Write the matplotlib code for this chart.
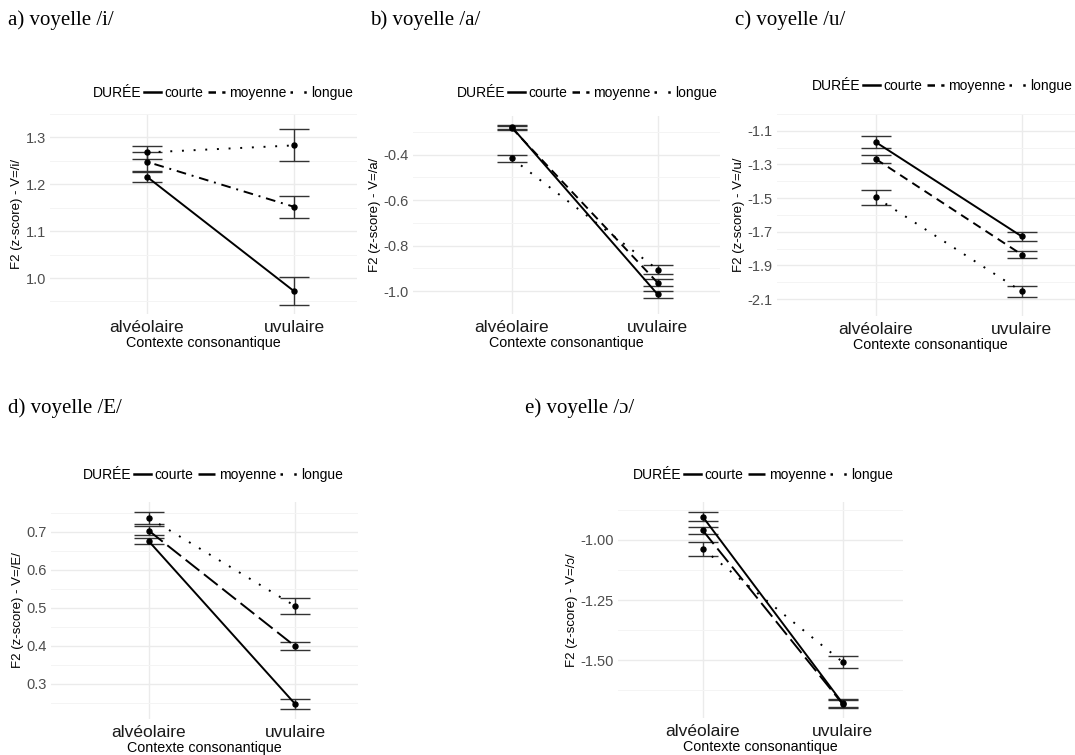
import matplotlib
matplotlib.use("Agg")
import matplotlib.pyplot as plt
from matplotlib.lines import Line2D

plt.rcParams["font.family"] = ["Liberation Sans", "DejaVu Sans"]

W, H = 1075, 755

categories = ["alvéolaire", "uvulaire"]
durees = ["courte", "moyenne", "longue"]

# voyelle /i/
i_courte = [1.216, 0.972]
i_courte_err = [0.011, 0.030]
i_moyenne = [1.248, 1.152]
i_moyenne_err = [0.020, 0.023]
i_longue = [1.268, 1.283]
i_longue_err = [0.013, 0.034]
i_ticks = [1.0, 1.1, 1.2, 1.3]

# voyelle /a/
a_courte = [-0.278, -1.014]
a_courte_err = [0.010, 0.014]
a_moyenne = [-0.282, -0.963]
a_moyenne_err = [0.010, 0.015]
a_longue = [-0.416, -0.905]
a_longue_err = [0.016, 0.020]
a_ticks = [-1.0, -0.8, -0.6, -0.4]

# voyelle /u/
u_courte = [-1.167, -1.727]
u_courte_err = [0.035, 0.028]
u_moyenne = [-1.267, -1.835]
u_moyenne_err = [0.025, 0.021]
u_longue = [-1.495, -2.054]
u_longue_err = [0.045, 0.034]
u_ticks = [-2.1, -1.9, -1.7, -1.5, -1.3, -1.1]

# voyelle /E/
e_courte = [0.675, 0.247]
e_courte_err = [0.008, 0.014]
e_moyenne = [0.703, 0.399]
e_moyenne_err = [0.012, 0.011]
e_longue = [0.737, 0.505]
e_longue_err = [0.016, 0.021]
e_ticks = [0.3, 0.4, 0.5, 0.6, 0.7]

# voyelle /ɔ/
o_courte = [-0.903, -1.680]
o_courte_err = [0.020, 0.017]
o_moyenne = [-0.960, -1.683]
o_moyenne_err = [0.015, 0.017]
o_longue = [-1.037, -1.508]
o_longue_err = [0.028, 0.025]
o_ticks = [-1.50, -1.25, -1.00]

# line dashes: (in plot, in legend key)
SOLID = ((None, None), (None, None))
DOTTED = ((1, 5), (1, 4.5))
DASHED = ((4.5, 3), (3, 2.5))
DOTDASH = ((1, 3, 5, 3), (3, 2.5))
LONGDASH = ((9, 3), (9, 3))


def px_rect(left, top, right, bottom):
    return [left / W, 1 - bottom / H, (right - left) / W, (bottom - top) / H]


def set_dashes(line, dashes):
    if dashes[0] is not None:
        line.set_dashes(dashes)


def draw_panel(fig, box, x_px, series, moy_dash, ticks, fmt, ylabel, legend_xy):

    left, top, right, bottom = box
    ax = fig.add_axes(px_rect(left, top, right, bottom))

    unit = x_px[1] - x_px[0]
    ax.set_xlim(
        1 - (x_px[0] - left) / unit,
        2 + (right - x_px[1]) / unit
    )

    lows = []
    highs = []
    for means, errs in series:
        lows += [m - e for m, e in zip(means, errs)]
        highs += [m + e for m, e in zip(means, errs)]
    lo, hi = min(lows), max(highs)
    pad = 0.05 * (hi - lo)
    ax.set_ylim(lo - pad, hi + pad)

    step = ticks[1] - ticks[0]
    minor = [ticks[0] - step / 2] + [t + step / 2 for t in ticks]
    ax.set_yticks(ticks)
    ax.set_yticklabels([fmt.format(t) for t in ticks])
    ax.set_yticks(minor, minor=True)
    ax.set_xticks([1, 2])
    ax.set_xticklabels(categories)

    ax.grid(which="major", color="#EBEBEB", lw=1.0)
    ax.grid(which="minor", axis="y", color="#F4F4F4", lw=0.7)
    ax.set_axisbelow(True)
    for s in ax.spines.values():
        s.set_visible(False)

    ax.tick_params(axis="both", which="both", length=0)
    ax.tick_params(axis="y", labelsize=10.5, labelcolor="#4D4D4D", pad=3)
    ax.tick_params(axis="x", labelsize=12.5, labelcolor="#1A1A1A", pad=4)

    styles = [SOLID, moy_dash, DOTTED]
    x = [1, 2]
    handles = []
    for (means, errs), (dashes, key_dashes) in zip(series, styles):
        ax.errorbar(
            x, means, yerr=errs, fmt="none",
            ecolor="#333333", elinewidth=1.0,
            capsize=11, capthick=1.0, zorder=2
        )
        line, = ax.plot(
            x, means, color="black", lw=1.4,
            marker="o", ms=3.6, zorder=3
        )
        set_dashes(line, dashes)
        h = Line2D([], [], color="black", lw=1.8)
        set_dashes(h, key_dashes)
        handles.append(h)

    ax.set_xlabel("Contexte consonantique", fontsize=10.3, labelpad=1)
    ax.set_ylabel(ylabel, fontsize=9.5, labelpad=2)

    lx, ly = legend_xy
    fig.text(lx / W, 1 - ly / H, "DURÉE", fontsize=10, va="center", ha="left")
    fig.legend(
        handles, durees,
        loc="center left",
        bbox_to_anchor=(lx / W + 51 / W, 1 - ly / H),
        ncol=3, frameon=False, fontsize=10,
        handlelength=1.25, handletextpad=0.25,
        columnspacing=0.3, borderpad=0, borderaxespad=0
    )
    return ax


fig = plt.figure(figsize=(W / 100, H / 100), dpi=100)

title_kw = dict(fontsize=15, va="center", ha="left",
                family=["Liberation Serif", "DejaVu Serif"])
fig.text(8 / W, 1 - 20 / H, "a) voyelle /i/", **title_kw)
fig.text(370 / W, 1 - 20 / H, "b) voyelle /a/", **title_kw)
fig.text(735 / W, 1 - 20 / H, "c) voyelle /u/", **title_kw)
fig.text(8 / W, 1 - 408 / H, "d) voyelle /E/", **title_kw)
fig.text(525 / W, 1 - 408 / H, "e) voyelle /ɔ/", **title_kw)

draw_panel(
    fig, (50, 114, 357, 314), (147, 294),
    [(i_courte, i_courte_err), (i_moyenne, i_moyenne_err), (i_longue, i_longue_err)],
    DOTDASH, i_ticks, "{:.1f}", "F2 (z-score) - V=/i/", (93, 93)
)
draw_panel(
    fig, (413, 116, 720, 314), (511.7, 657.7),
    [(a_courte, a_courte_err), (a_moyenne, a_moyenne_err), (a_longue, a_longue_err)],
    DASHED, a_ticks, "{:.1f}", "F2 (z-score) - V=/a/", (457, 93)
)
draw_panel(
    fig, (777, 114, 1084, 316), (875.7, 1021.7),
    [(u_courte, u_courte_err), (u_moyenne, u_moyenne_err), (u_longue, u_longue_err)],
    DASHED, u_ticks, "{:.1f}", "F2 (z-score) - V=/u/", (812, 86)
)
draw_panel(
    fig, (51, 502, 358, 719), (149, 295),
    [(e_courte, e_courte_err), (e_moyenne, e_moyenne_err), (e_longue, e_longue_err)],
    LONGDASH, e_ticks, "{:.1f}", "F2 (z-score) - V=/E/", (83, 475)
)
draw_panel(
    fig, (618, 502, 903, 718), (702.7, 842.7),
    [(o_courte, o_courte_err), (o_moyenne, o_moyenne_err), (o_longue, o_longue_err)],
    LONGDASH, o_ticks, "{:.2f}", "F2 (z-score) - V=/ɔ/", (633, 475)
)

fig.savefig("out.png", dpi=100)
plt.close(fig)
